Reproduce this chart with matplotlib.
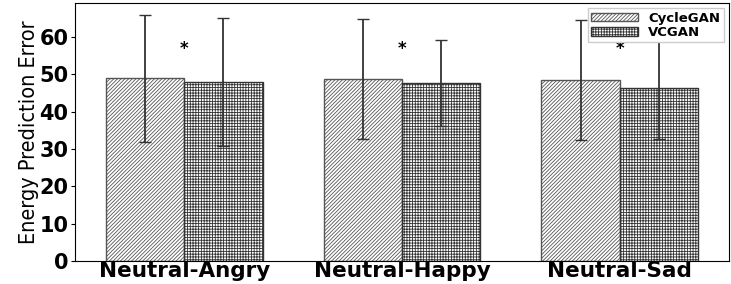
import numpy as np
import matplotlib
matplotlib.use('Agg')
import matplotlib.pyplot as plt

plt.rcParams['hatch.linewidth'] = 0.6

groups = ['Neutral-Angry', 'Neutral-Happy', 'Neutral-Sad']
models = ['CycleGAN', 'VCGAN']
cyclegan_mean = [48.9, 48.7, 48.4]
cyclegan_std = [17.0, 16.0, 16.0]
vcgan_mean = [47.9, 47.6, 46.3]
vcgan_std = [17.0, 11.5, 13.7]
star_y = [56.8, 56.8, 56.8]

fig, ax = plt.subplots(1, 1, figsize=(7.31, 2.84), dpi=100)
x = np.arange(len(groups))
w = 0.36

ax.bar(x - w/2, cyclegan_mean, w, yerr=cyclegan_std, color='white', edgecolor='#555555',
       hatch='/////////', linewidth=1, label=models[0],
       error_kw=dict(ecolor='#333333', elinewidth=1.3, capsize=4, capthick=1))
ax.bar(x + w/2, vcgan_mean, w, yerr=vcgan_std, color='white', edgecolor='#333333',
       hatch='++++++', linewidth=1, label=models[1],
       error_kw=dict(ecolor='#333333', elinewidth=1.3, capsize=4, capthick=1))

for xi, yi in zip(x, star_y):
    ax.text(xi, yi, '*', ha='center', va='center', fontsize=12, fontweight='bold')

ax.set_xlim(-0.5, 2.5)
ax.set_ylim(0, 69)
ax.set_xticks(x)
ax.set_xticklabels(groups, fontsize=15.5, fontweight='bold')
ax.set_yticks(range(0, 61, 10))
ax.set_yticklabels([str(v) for v in range(0, 61, 10)], fontsize=15, fontweight='bold')
ax.tick_params(axis='x', length=0, pad=0)
ax.tick_params(axis='y', length=3, pad=2)
ax.set_ylabel('Energy Prediction Error', fontsize=15.5, family='DejaVu Sans',
              fontstretch='condensed', labelpad=0)
ax.legend(loc='upper right', prop={'weight': 'bold', 'size': 9.5}, handlelength=3.5,
          handleheight=0.6, borderpad=0.25, borderaxespad=0.4, labelspacing=0.1,
          fancybox=False, edgecolor='#cccccc', framealpha=1)

plt.subplots_adjust(left=0.103, right=0.997, bottom=0.08, top=0.989)
plt.savefig('out.png', dpi=100)
